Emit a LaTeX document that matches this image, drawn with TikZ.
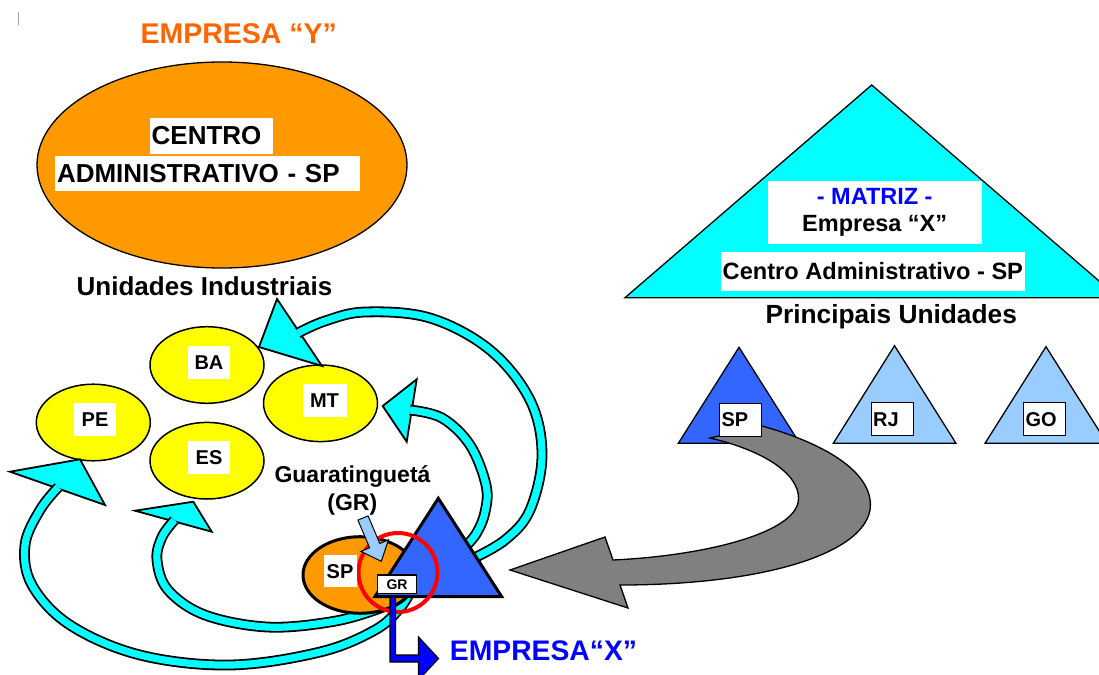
\documentclass[tikz,border=0pt]{standalone}
\usepackage{fontspec}
\setmainfont{Liberation Sans}
\usetikzlibrary{shapes.geometric}
\definecolor{corange}{HTML}{FF9900}
\definecolor{ctitle}{HTML}{FF6600}
\definecolor{uyellow}{HTML}{FFFF00}
\definecolor{ccyan}{HTML}{00FFFF}
\definecolor{cblue}{HTML}{3366FF}
\definecolor{clight}{HTML}{99CCFF}
\definecolor{pureblue}{HTML}{0000FF}
\definecolor{cgray}{HTML}{808080}
\begin{document}
\begin{tikzpicture}[x=1pt,y=-1pt,line join=round,
  unit/.style={ellipse, draw=black, line width=1.5pt, fill=uyellow, minimum width=114pt, minimum height=76.6pt, inner sep=0pt},
  ulabel/.style={fill=white, inner sep=0pt, minimum width=42pt, minimum height=33pt, font=\fontsize{20}{24}\selectfont\bfseries},
  rlabel/.style={fill=white, draw=black, line width=1.2pt, inner xsep=2pt, inner ysep=0pt, minimum height=33pt, text width=38pt, align=left, font=\fontsize{20}{24}\selectfont\bfseries},
  smalltri/.style={draw=black, line width=1.3pt, line join=miter},
  shaft/.style={draw=black, line width=1.8pt, double=ccyan, double distance=7.2pt},
  head/.style={fill=ccyan, draw=black, line width=1.8pt, line join=miter},
  whitebox/.style={fill=white, inner sep=0pt},
]
\clip (0,0) rectangle (1099,674);
\useasboundingbox (0,0) rectangle (1099,674);

% tick
\draw[gray!70, line width=0.8pt] (18.3,11.7) -- (18.3,25);

% Empresa Y
\node[anchor=base, inner sep=0pt, text=ctitle, font=\fontsize{28.5}{30}\selectfont\bfseries] (ey) at (238.7,43.3) {EMPRESA “Y”};
\node[ellipse, draw=black, line width=1.3pt, fill=corange, minimum width=370pt, minimum height=206pt, inner sep=0pt] (cy) at (222,165) {};
\node[whitebox, inner xsep=1.7pt, text width=119.6pt, minimum height=35.7pt, align=left, font=\fontsize{26}{30}\selectfont\bfseries] (c1) at (211.5,135.85) {CENTRO};
\node[whitebox, inner xsep=2pt, text width=301pt, minimum height=34.7pt, align=left, font=\fontsize{26}{30}\selectfont\bfseries] (c2) at (207.5,173.35) {ADMINISTRATIVO - SP};
\node[anchor=base, inner sep=0pt, font=\fontsize{26}{30}\selectfont\bfseries] (ui) at (204.5,295) {Unidades Industriais};

% Matriz
\draw[fill=ccyan, line width=1.3pt, line join=miter] (871.7,85) -- (625,297.7) -- (1118.4,297.7) -- cycle;
\node[whitebox, minimum width=214pt, minimum height=63pt, align=center, font=\fontsize{23.5}{27}\selectfont\bfseries] (m1) at (874.7,212.5) {\textcolor{pureblue}{- MATRIZ -}\\Empresa “X”};
\node[whitebox, minimum width=304.3pt, minimum height=38.4pt, font=\fontsize{23.6}{27}\selectfont\bfseries] (m2) at (872.85,271.5) {Centro Administrativo - SP};
\node[anchor=base, inner sep=0pt, font=\fontsize{26.3}{30}\selectfont\bfseries] (pu) at (891.2,323.3) {Principais Unidades};

% small triangles
\draw[smalltri, fill=cblue] (739,347.3) -- (678.3,443.3) -- (799.7,443.3) -- cycle;
\draw[smalltri, fill=clight] (894.5,345.7) -- (833.3,443.3) -- (956,443.3) -- cycle;
\draw[smalltri, fill=clight] (1046,346.7) -- (985,443.3) -- (1107,443.3) -- cycle;

% gray arrow
\draw[fill=cgray, line width=1.3pt, line join=miter] (510,570) -- (605,537) -- (613,560)
  .. controls (700,556) and (790,535) .. (798,503)
  .. controls (803,478) and (770,452) .. (710,438)
  -- (762,426)
  .. controls (830,445) and (875,475) .. (870,510)
  .. controls (862,555) and (760,585) .. (620,585)
  -- (628,608) -- cycle;

\node[rlabel] (sp2) at (740.5,419.7) {SP};
\node[rlabel] (rj) at (892.2,419.3) {RJ};
\node[rlabel] (go) at (1044.5,419.3) {GO};

% industrial units
\node[unit] (BA) at (207,365) {};
\node[unit] (PE) at (93.3,422.5) {};
\node[unit] (MT) at (320.5,403.3) {};
\node[unit] (ES) at (207,460.7) {};
\node[ulabel] (baL) at (209,362.5) {BA};
\node[ulabel] (peL) at (95,419.5) {PE};
\node[ulabel, minimum width=44pt] (mtL) at (324.5,400.3) {MT};
\node[ulabel] (esL) at (209,457.3) {ES};

% cyan arrows
\draw[head] (259,347) -- (277,299) -- (322,366) -- cycle;
\draw[shaft] plot[smooth, tension=0.6] coordinates {(298,333) (325,321) (365,312) (430,318) (490,350) (530,400) (542,455) (530,510) (505,540) (470,560)};
\draw[head] (382.7,406) -- (416.7,379.3) -- (406.7,441.7) -- cycle;
\draw[shaft] plot[smooth, tension=0.6] coordinates {(410,410) (442,418) (470,445) (486,485) (485,512) (476,534) (462,550)};
\draw[head] (80,459.3) -- (10,471.7) -- (105,505) -- cycle;
\draw[shaft] plot[smooth, tension=0.6] coordinates {(58.4,487) (40,510) (25,545) (32,585) (70,625) (140,655) (230,665) (320,652) (375,630) (400,608) (410,592)};
\draw[head] (193.3,501.7) -- (135,510.7) -- (211.7,531.7) -- cycle;
\draw[shaft] plot[smooth, tension=0.6] coordinates {(174.4,520.2) (162,537) (157,560) (168,590) (205,615) (267,627) (330,622) (375,610) (400,598) (405,590)};

% Guaratingueta unit
\node[ellipse, draw=black, line width=3pt, fill=corange, minimum width=114pt, minimum height=76.6pt, inner sep=0pt] (gsp) at (360,575) {};
\draw[fill=cblue, line width=3pt, line join=miter] (438.3,498.3) -- (374.9,596.7) -- (501.7,596.7) -- cycle;
\draw[red, line width=4pt] (398,572.5) circle (39.5pt);
\node[draw=black, line width=1.5pt, fill=white, minimum width=39pt, minimum height=18.3pt, inner sep=0pt, font=\fontsize{14}{16}\selectfont\bfseries] (gr) at (397,584.2) {GR};
\node[whitebox, minimum width=33pt, minimum height=32.3pt, font=\fontsize{20}{24}\selectfont\bfseries] (gspL) at (340,571.2) {SP};
\draw[fill=clight, line width=1pt, line join=miter] (357.9,520.1) -- (368.1,515.9) -- (379.8,543.5) -- (388.5,539.8) -- (381.3,561.3) -- (360.9,551.4) -- (369.6,547.7) -- cycle;
\draw[fill=pureblue, line width=1.2pt, line join=miter] (390,597) -- (395.5,597) -- (395.5,655) -- (418.5,655) -- (418.5,637) -- (438.5,658.5) -- (418.5,680) -- (418.5,662) -- (390,662) -- cycle;

\node[anchor=base, inner sep=0pt, font=\fontsize{23}{27}\selectfont\bfseries] (gt) at (352.5,482.7) {Guaratinguetá};
\node[anchor=base, inner sep=0pt, font=\fontsize{23}{27}\selectfont\bfseries] (gtr) at (352.3,510.5) {(GR)};
\node[anchor=base, inner sep=0pt, text=pureblue, font=\fontsize{28.3}{30}\selectfont\bfseries] (ex) at (543.5,660) {EMPRESA“X”};
\end{tikzpicture}
\end{document}
